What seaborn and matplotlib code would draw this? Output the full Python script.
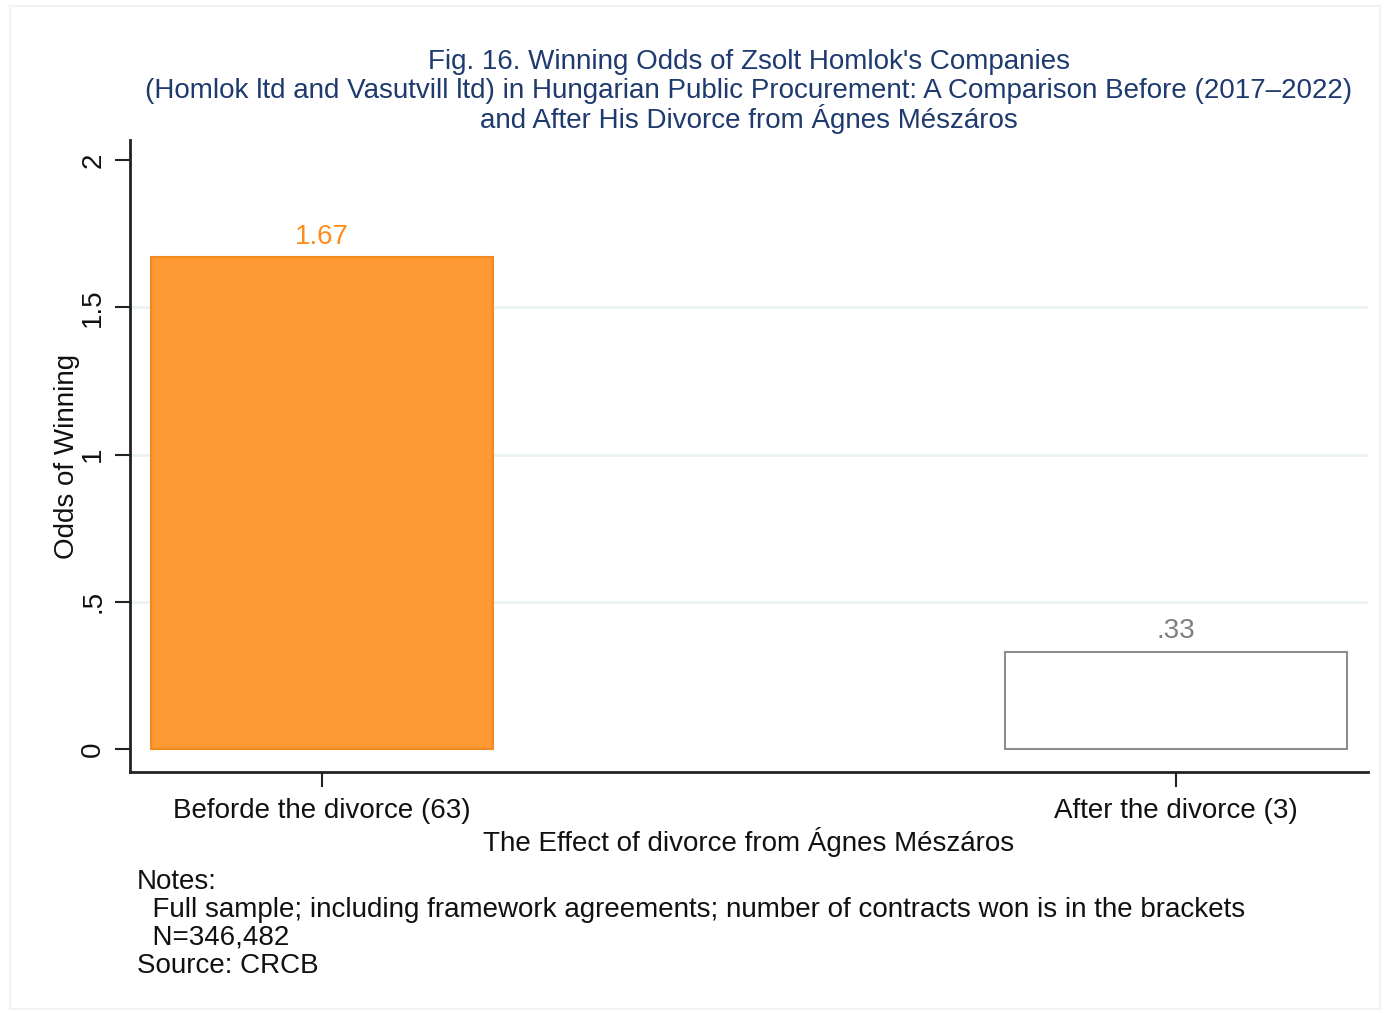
import matplotlib
matplotlib.use("Agg")
import matplotlib.pyplot as plt
import seaborn as sns
from matplotlib.patches import Rectangle

categories = ["Beforde the divorce (63)", "After the divorce (3)"]
odds = [1.67, 0.33]
value_labels = ["1.67", ".33"]
fill_colors = ["#FF9933", "#FFFFFF"]
edge_colors = ["#F28A1F", "#8C8C8C"]
label_colors = ["#FF8C1A", "#7F7F7F"]
yticks = [0, 0.5, 1, 1.5, 2]
ytick_labels = ["0", ".5", "1", "1.5", "2"]

title_lines = ["Fig. 16. Winning Odds of Zsolt Homlok's Companies",
               "(Homlok ltd and Vasutvill ltd) in Hungarian Public Procurement: A Comparison Before (2017\u20132022)",
               "and After His Divorce from \u00c1gnes M\u00e9sz\u00e1ros"]
notes = ["Notes:",
         "  Full sample; including framework agreements; number of contracts won is in the brackets",
         "  N=346,482",
         "Source: CRCB"]

sns.set_theme(style="white")
plt.rcParams['font.family'] = ['Liberation Sans', 'DejaVu Sans']

FS = 20
fig = plt.figure(figsize=(13.84, 10.13), dpi=100)
ax = fig.add_axes([0.0939, 0.2379, 0.8945, 0.6239])

sns.barplot(x=categories, y=odds, hue=categories, palette=fill_colors,
            width=0.4, legend=False, ax=ax, saturation=1)
for p, ec in zip(ax.patches, edge_colors):
    p.set_edgecolor(ec)
    p.set_linewidth(1.5)

for i, (v, lab, c) in enumerate(zip(odds, value_labels, label_colors)):
    ax.text(i, v + 0.025, lab, ha="center", va="bottom", fontsize=FS, color=c)

ax.set_xlim(-0.2248, 1.2248)
ax.set_ylim(-0.078, 2.068)
ax.set_yticks(yticks)
ax.set_yticklabels(ytick_labels, rotation=90, va="center", fontsize=FS, color="#111111")
ax.tick_params(axis="both", which="both", length=11, width=1.5, color="#222222",
               left=True, bottom=True, labelsize=FS)
ax.tick_params(axis="y", pad=6)
ax.tick_params(axis="x", pad=8)
for t in ax.get_xticklabels():
    t.set_color("#111111")

for y in [0.5, 1, 1.5]:
    ax.axhline(y, color="#EAF2F3", lw=2, zorder=0)

sns.despine(ax=ax)
for s in ["left", "bottom"]:
    ax.spines[s].set_color("#222222")
    ax.spines[s].set_linewidth(2)

ax.set_ylabel("Odds of Winning", fontsize=FS, color="#111111", labelpad=0)
ax.set_xlabel("The Effect of divorce from \u00c1gnes M\u00e9sz\u00e1ros", fontsize=FS,
              color="#111111", labelpad=2)

for txt, yp in zip(title_lines, [62, 91, 119]):
    fig.text(0.541, 1 - yp / 1013, txt, ha="center", va="center", fontsize=FS, color="#1E3A6E")

for txt, yp in zip(notes, [882, 910, 938, 966]):
    fig.text(137 / 1384, 1 - yp / 1013, txt, ha="left", va="center", fontsize=FS, color="#111111")

fig.patches.append(Rectangle((0.007, 0.004), 0.99, 0.99, transform=fig.transFigure,
                             fill=False, edgecolor="#F2F2F2", lw=1.5))

fig.savefig("out.png", dpi=100)
